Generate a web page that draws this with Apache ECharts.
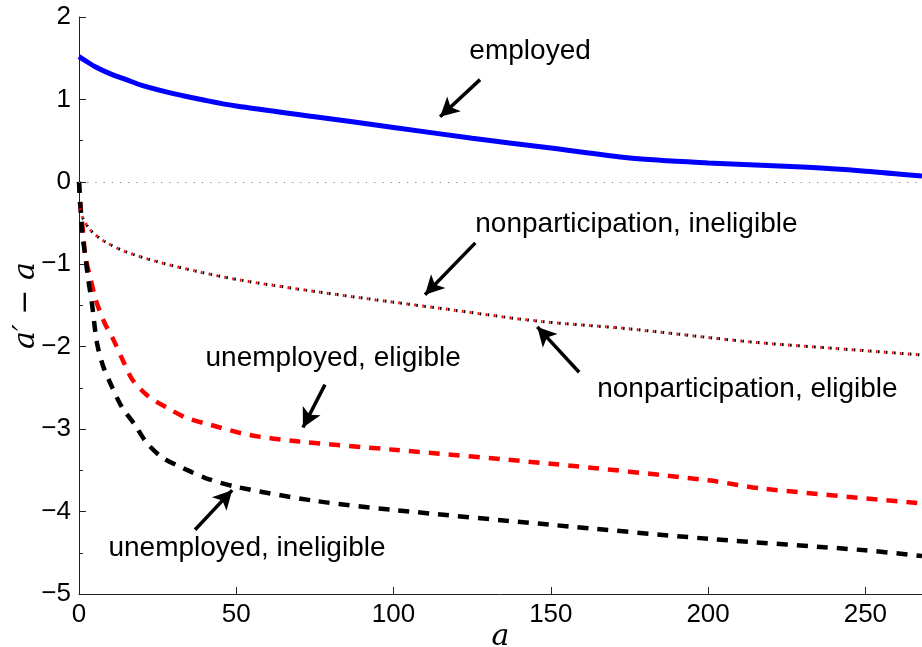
<!DOCTYPE html>
<html>
<head>
<meta charset="utf-8">
<script src="https://cdn.jsdelivr.net/npm/echarts@6/dist/echarts.min.js"></script>
<style>html,body{margin:0;padding:0;background:#fff}#c{width:922px;height:647px}</style>
</head>
<body>
<div id="c"></div>
<script>
// ---- data ----
var empA = [0, 2, 5, 10, 15, 20, 30, 40, 50, 75, 100, 125, 150, 175, 200, 230, 250, 268];
var empV = [1.52, 1.47, 1.40, 1.31, 1.24, 1.17, 1.07, 0.99, 0.92, 0.79, 0.66, 0.53, 0.41, 0.29, 0.23, 0.18, 0.13, 0.07];

var npA = [0, 1, 3.5, 8, 15, 25, 38, 51, 75, 100, 114, 146, 174, 213, 240, 268];
var npInelV = [-0.25, -0.42, -0.58, -0.72, -0.85, -0.97, -1.09, -1.19, -1.33, -1.46, -1.53, -1.69, -1.78, -1.94, -2.02, -2.10];
var npEligV = [-0.25, -0.42, -0.58, -0.72, -0.85, -0.97, -1.09, -1.19, -1.33, -1.46, -1.53, -1.69, -1.78, -1.94, -2.02, -2.10];

var ueA = [0, 0.5, 1.3, 2, 3.5, 5.5, 8, 11, 14, 17, 22, 28, 34, 42, 54, 70, 100, 150, 200, 217, 268];
var ueV = [0, -0.3, -0.62, -0.9, -1.15, -1.45, -1.7, -1.92, -2.17, -2.40, -2.60, -2.74, -2.86, -2.95, -3.07, -3.15, -3.25, -3.42, -3.62, -3.72, -3.90];

var uiA = [0, 1, 2, 3, 4.1, 5.7, 7.7, 10.4, 13.6, 17.8, 21.6, 26.7, 33, 40, 50, 75, 100, 150, 200, 250, 268];
var uiV = [0, -0.6, -0.9, -1.2, -1.47, -1.95, -2.24, -2.48, -2.73, -2.95, -3.17, -3.35, -3.47, -3.59, -3.70, -3.87, -3.98, -4.16, -4.33, -4.47, -4.54];

var xTicks = [0, 50, 100, 150, 200, 250];
var yTicks = [-5, -4, -3, -2, -1, 0, 1, 2];

var labelNames = ['employed', 'nonparticipation, ineligible', 'nonparticipation, eligible', 'unemployed, eligible', 'unemployed, ineligible'];
var labelPos = [[143.4, 1.58], [177.2, -0.52], [212.5, -2.52], [80.8, -2.14], [53.4, -4.44]];
var arrowFrom = [[127.5, 1.24], [126, -0.74], [159, -2.31], [78.2, -2.46], [36.9, -4.22]];
var arrowTo = [[114.8, 0.79], [110, -1.37], [145.7, -1.76], [71.2, -2.98], [48.7, -3.74]];

function zip(a, v) { return a.map(function (x, i) { return [x, v[i]]; }); }

var font = "'Liberation Sans', Arial, Helvetica, sans-serif";
var serif = "'DejaVu Serif', 'Liberation Serif', serif";
var chart = echarts.init(document.getElementById('c'), null, { renderer: 'canvas' });

var option = {
  animation: false,
  backgroundColor: '#fff',
  grid: { left: 79, right: 0, top: 17, bottom: 53, containLabel: false, outerBoundsMode: 'none' },
  xAxis: {
    type: 'value', min: 0, max: 268, interval: 50,
    name: 'a', nameLocation: 'middle', nameGap: 28, nameMoveOverlap: false,
    nameTextStyle: { fontFamily: serif, fontStyle: 'italic', fontSize: 30, color: '#000' },
    axisLine: { show: true, onZero: false, lineStyle: { color: '#222', width: 1 } },
    axisTick: { show: true, inside: true, length: 7, customValues: xTicks, lineStyle: { color: '#222' } },
    axisLabel: { customValues: xTicks, margin: 8, fontFamily: font, fontSize: 26, color: '#000' },
    splitLine: { show: false }
  },
  yAxis: {
    type: 'value', min: -5, max: 2, interval: 1,
    name: "a\u2032 \u2212 a", nameLocation: 'middle', nameGap: 38, nameRotate: 90, nameMoveOverlap: false,
    nameTextStyle: { fontFamily: serif, fontStyle: 'italic', fontSize: 30, color: '#000' },
    axisLine: { show: true, onZero: false, lineStyle: { color: '#222', width: 1 } },
    axisTick: { show: true, inside: true, length: 7, lineStyle: { color: '#222' } },
    minorTick: { show: true, splitNumber: 2, length: 4, lineStyle: { color: '#222' } },
    axisLabel: { margin: 8, fontFamily: font, fontSize: 26, color: '#000',
      formatter: function (v) { return v < 0 ? '\u2212' + Math.abs(v) : String(v); } },
    splitLine: { show: false }
  },
  series: [
    {
      type: 'line', name: 'zero', data: [], silent: true,
      markLine: {
        silent: true, symbol: ['none', 'none'], label: { show: false },
        lineStyle: { color: '#888', width: 1, type: [1.2, 7] },
        data: [{ yAxis: 0 }]
      }
    },
    {
      type: 'line', name: 'employed', data: zip(empA, empV), showSymbol: false, smooth: 0.3,
      lineStyle: { color: '#0000ff', width: 5 }, itemStyle: { color: '#0000ff' }
    },
    {
      type: 'line', name: 'unemployed, eligible', data: zip(ueA, ueV), showSymbol: false, smooth: 0.3,
      lineStyle: { color: '#ff0000', width: 4.5, type: [11, 9] }, itemStyle: { color: '#ff0000' }
    },
    {
      type: 'line', name: 'unemployed, ineligible', data: zip(uiA, uiV), showSymbol: false, smooth: 0.3,
      lineStyle: { color: '#000000', width: 4.5, type: [11, 9] }, itemStyle: { color: '#000' }
    },
    {
      type: 'line', name: 'nonparticipation, eligible', data: zip(npA, npEligV), showSymbol: false, smooth: 0.3,
      lineStyle: { color: '#ff0000', width: 3, type: [1.6, 6.4], dashOffset: 2 }, itemStyle: { color: '#ff0000' }
    },
    {
      type: 'line', name: 'nonparticipation, ineligible', data: zip(npA, npInelV), showSymbol: false, smooth: 0.3,
      lineStyle: { color: '#000000', width: 3, type: [1.6, 6.4] }, itemStyle: { color: '#000' }
    },
    {
      type: 'line', name: 'annotations', data: [], silent: true,
      markLine: {
        silent: true, symbol: ['none', 'arrow'], symbolSize: [15, 19], label: { show: false },
        lineStyle: { color: '#000', width: 3.5, type: 'solid' },
        data: arrowFrom.map(function (f, i) { return [{ coord: f }, { coord: arrowTo[i] }]; })
      },
      markPoint: {
        silent: true, symbol: 'circle', symbolSize: 0,
        label: { show: true, position: 'inside', formatter: '{b}', fontFamily: font, fontSize: 28, color: '#000' },
        data: labelNames.map(function (n, i) { return { name: n, coord: labelPos[i] }; })
      }
    }
  ]
};
chart.setOption(option);
</script>
</body>
</html>
